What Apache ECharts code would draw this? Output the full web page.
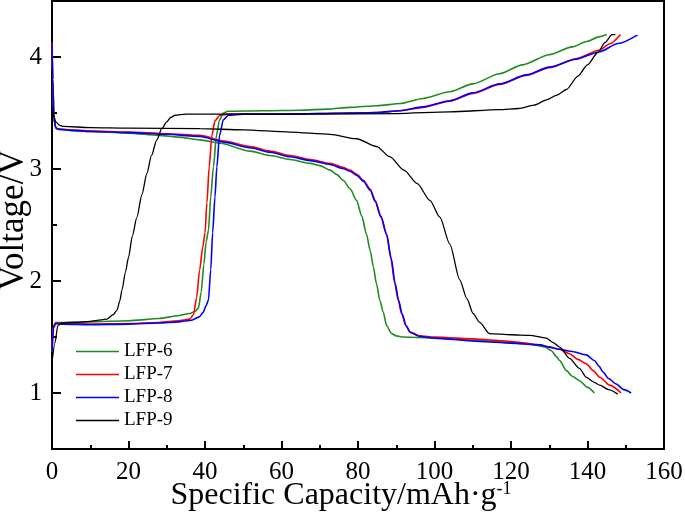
<!DOCTYPE html>
<html>
<head>
<meta charset="utf-8">
<script src="https://cdn.jsdelivr.net/npm/echarts@6/dist/echarts.min.js"></script>
<style>html,body{margin:0;padding:0;background:#fff;}#chart{width:685px;height:514px;}</style>
</head>
<body>
<div id="chart"></div>
<script>
// Series names
var seriesNames = ['LFP-6', 'LFP-7', 'LFP-8', 'LFP-9'];

// Charge curves [capacity mAh/g, voltage V]
var lfp6Charge = [[0,1.37],[0.4,1.6],[1,1.63],[3,1.63],[10,1.635],[20,1.645],[28,1.665],[33,1.69],[36,1.71],[37.5,1.73],[38.3,1.76],[39,1.9],[39.7,2.15],[40.3,2.35],[40.9,2.45],[41.5,2.75],[42.2,3.02],[43,3.3],[43.8,3.44],[44.8,3.50],[46,3.515],[55,3.52],[65,3.525],[72,3.535],[78,3.55],[85,3.565],[91,3.585],[97,3.63],[104,3.69],[110,3.76],[117,3.85],[123,3.93],[130,4.02],[136,4.09],[140,4.14],[143,4.18],[145,4.2]];
var lfp7Charge = [[0,1.42],[0.4,1.6],[1,1.625],[3,1.62],[10,1.615],[20,1.62],[28,1.63],[33,1.645],[36,1.66],[37,1.7],[37.8,1.85],[38.6,2.1],[39.4,2.3],[40,2.43],[40.5,2.7],[41.1,3.02],[41.8,3.3],[42.6,3.43],[43.9,3.48],[46,3.49],[60,3.49],[70,3.495],[78,3.50],[85,3.505],[91,3.52],[97,3.55],[104,3.605],[110,3.675],[117,3.755],[124,3.835],[130,3.905],[137,3.985],[143,4.06],[146,4.12],[148.6,4.2]];
var lfp8Charge = [[0,1.38],[0.4,1.58],[1,1.62],[3,1.615],[10,1.61],[20,1.615],[28,1.625],[33,1.635],[36.5,1.65],[38.5,1.68],[39.5,1.72],[40.3,1.78],[40.9,1.83],[41.5,2.1],[42,2.43],[42.6,2.75],[43.1,3.02],[43.8,3.3],[44.8,3.44],[46.1,3.48],[50,3.49],[60,3.49],[70,3.495],[78,3.50],[85,3.505],[91,3.52],[97,3.555],[104,3.61],[110,3.68],[117,3.76],[124,3.84],[130,3.91],[137,3.98],[143,4.045],[148,4.12],[153.2,4.2]];
var lfp9Charge = [[0,1.27],[0.8,1.45],[1.5,1.6],[2.5,1.625],[6,1.63],[10,1.64],[14.4,1.66],[16,1.7],[17,1.74],[17.7,1.82],[18.3,1.92],[19.2,2.08],[20,2.21],[21,2.4],[22.2,2.57],[23.5,2.77],[24.8,2.96],[26,3.12],[27.4,3.26],[28.7,3.36],[30,3.42],[31,3.46],[32.2,3.48],[35,3.49],[50,3.49],[70,3.49],[90,3.495],[104,3.51],[117,3.53],[122,3.54],[126,3.57],[129.5,3.62],[132,3.66],[134.5,3.71],[137.5,3.83],[140,3.93],[142.7,4.04],[144.6,4.13],[146.4,4.2],[147.3,4.2]];

// Discharge curves [capacity mAh/g, voltage V]
var lfp6Discharge = [[0,4.12],[0.2,3.8],[0.5,3.45],[1,3.37],[1.5,3.355],[5,3.345],[10,3.335],[20,3.32],[28,3.3],[33,3.285],[38.7,3.26],[44,3.23],[51.8,3.16],[57,3.12],[62.2,3.085],[67.5,3.05],[70,3.03],[72.7,2.99],[74.5,2.95],[76.1,2.9],[78,2.82],[79.6,2.72],[81,2.58],[82.2,2.42],[83.2,2.27],[84,2.13],[84.8,1.98],[85.7,1.83],[86.6,1.72],[87.5,1.6],[88.8,1.53],[90,1.51],[91.8,1.50],[100,1.49],[111.8,1.47],[120,1.45],[126,1.43],[129,1.41],[130.5,1.38],[132,1.32],[132.7,1.29],[134.5,1.2],[136,1.15],[137.9,1.11],[140,1.05],[141.8,1.0]];
var lfp7Discharge = [[0,4.13],[0.2,3.8],[0.5,3.45],[1,3.37],[1.5,3.36],[5,3.35],[10,3.34],[20,3.33],[30,3.315],[38.7,3.30],[45,3.25],[51.8,3.20],[57,3.16],[62.2,3.12],[67.5,3.085],[72.7,3.05],[76,3.015],[77.9,2.99],[79.8,2.95],[81.4,2.90],[83.2,2.82],[84.5,2.72],[86,2.58],[87.5,2.42],[88.6,2.2],[89.6,1.98],[90.5,1.83],[91.4,1.71],[92.5,1.6],[93.6,1.545],[96.2,1.51],[100,1.50],[111.8,1.48],[120,1.46],[127.5,1.43],[130,1.41],[132.7,1.39],[135.3,1.35],[137.5,1.30],[139.7,1.26],[141.5,1.20],[143.2,1.14],[145.8,1.07],[148.8,1.0]];
var lfp8Discharge = [[0,4.12],[0.2,3.8],[0.5,3.45],[1,3.365],[1.5,3.355],[5,3.345],[10,3.335],[20,3.325],[30,3.31],[38.7,3.29],[45,3.24],[51.8,3.19],[57,3.15],[62.2,3.11],[67.5,3.075],[72.7,3.04],[76,3.005],[77.9,2.98],[79.8,2.94],[81.4,2.89],[83.2,2.81],[84.5,2.71],[86,2.57],[87.5,2.41],[88.7,2.2],[89.7,1.98],[90.6,1.83],[91.5,1.71],[92.6,1.6],[93.7,1.54],[96.2,1.505],[100,1.49],[111.8,1.46],[120,1.445],[127.5,1.43],[130,1.41],[132.7,1.39],[136,1.37],[139.7,1.34],[141.8,1.29],[143,1.24],[144,1.19],[145.5,1.13],[147.5,1.08],[149.5,1.03],[151.4,1.0]];
var lfp9Discharge = [[0,3.55],[0.5,3.47],[1,3.42],[2,3.39],[3,3.38],[10,3.37],[20,3.365],[38.7,3.36],[50,3.35],[62.2,3.33],[72.7,3.31],[79.6,3.27],[84.9,3.20],[88.3,3.11],[92,2.99],[95.5,2.87],[98.8,2.72],[101.4,2.57],[104,2.33],[106.6,2.01],[108.5,1.84],[110.1,1.71],[111.8,1.63],[114.4,1.53],[120,1.52],[124.9,1.515],[129.2,1.49],[131,1.45],[132.7,1.41],[135.3,1.31],[137.9,1.22],[139.7,1.14],[141.5,1.1],[143.2,1.07],[145.5,1.03],[147.9,0.99]];

var seriesColors = ['#1f8c1f', '#ff0000', '#0000ff', '#000000'];
var chargeData = [lfp6Charge, lfp7Charge, lfp8Charge, lfp9Charge];
var dischargeData = [lfp6Discharge, lfp7Discharge, lfp8Discharge, lfp9Discharge];

var FONT = 'Liberation Serif';
var chart = echarts.init(document.getElementById('chart'), null, {renderer: 'canvas'});

var series = [];
for (var i = 0; i < seriesNames.length; i++) {
  [chargeData[i], dischargeData[i]].forEach(function (d) {
    series.push({
      name: seriesNames[i],
      type: 'line',
      data: d,
      symbol: 'none',
      smooth: 0.25,
      smoothMonotone: 'x',
      animation: false,
      lineStyle: {color: seriesColors[i], width: i === 3 ? 1.3 : 1.6},
      itemStyle: {color: seriesColors[i]}
    });
  });
}

chart.setOption({
  animation: false,
  backgroundColor: '#fff',
  grid: {left: 52, right: 21, top: 1, bottom: 65, show: true, borderColor: '#000', borderWidth: 2,
    backgroundColor: 'transparent', containLabel: false, outerBoundsMode: 'none'},
  legend: {
    data: seriesNames,
    orient: 'vertical',
    left: 71,
    top: 337,
    icon: 'rect',
    itemWidth: 43,
    itemHeight: 1.6,
    itemGap: 4,
    textStyle: {fontFamily: FONT, fontSize: 19, color: '#000', lineHeight: 19},
    selectedMode: false
  },
  xAxis: {
    type: 'value',
    min: 0, max: 160, interval: 20,
    name: 'Specific Capacity/mAh·g{sup|-1}',
    nameLocation: 'middle',
    nameGap: 31,
    nameMoveOverlap: false,
    nameTextStyle: {fontFamily: FONT, fontSize: 32, color: '#000', padding: [0, 34, 0, 0],
      rich: {sup: {fontFamily: FONT, fontSize: 18, color: '#000', verticalAlign: 'top', padding: [0, 0, 13, 0]}}},
    axisLine: {lineStyle: {color: '#000', width: 2}},
    axisTick: {inside: true, length: 8, lineStyle: {color: '#000', width: 2}},
    minorTick: {show: true, splitNumber: 2, length: 4, lineStyle: {color: '#000', width: 2}},
    splitLine: {show: false},
    axisLabel: {fontFamily: FONT, fontSize: 25, color: '#000', margin: 11}
  },
  yAxis: [{
    type: 'value',
    min: 0.5, max: 4.5, splitNumber: 4,
    name: 'Voltage/V',
    nameLocation: 'middle',
    nameGap: 21,
    nameMoveOverlap: false,
    nameTextStyle: {fontFamily: FONT, fontSize: 35, color: '#000', padding: [0, 0, 0, 10]},
    axisLine: {lineStyle: {color: '#000', width: 2}},
    axisTick: {inside: true, length: 9, lineStyle: {color: '#000', width: 2}},
    splitLine: {show: false},
    axisLabel: {fontFamily: FONT, fontSize: 25, color: '#000', margin: 10,
      formatter: function (v) { return Math.abs(v - Math.round(v)) < 1e-9 ? String(Math.round(v)) : ''; }}
  }, {
    type: 'value',
    position: 'left',
    min: 0.5, max: 4.5, interval: 0.5,
    axisLine: {show: false},
    axisTick: {inside: true, length: 5, lineStyle: {color: '#000', width: 2}},
    axisLabel: {show: false},
    splitLine: {show: false}
  }],
  series: series
});
</script>
</body>
</html>
